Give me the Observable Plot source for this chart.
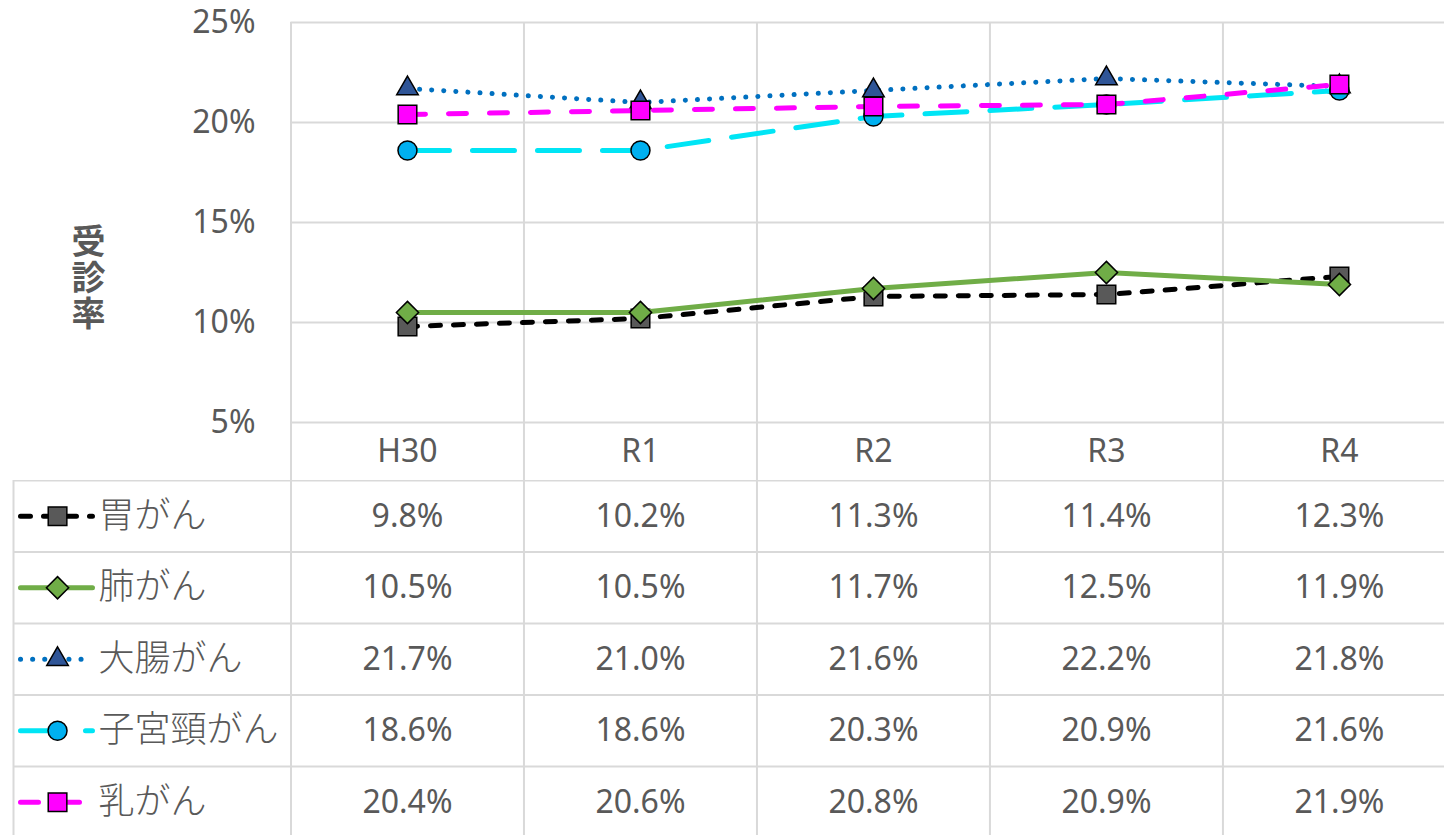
<!DOCTYPE html>
<html><head><meta charset="utf-8">
<script src="https://cdn.jsdelivr.net/npm/d3@7"></script>
<script src="https://cdn.jsdelivr.net/npm/@observablehq/plot@0.6"></script>
<style>
body{margin:0;background:#fff;}
#chart{width:1444px;height:835px;overflow:hidden;background:#fff;}
#chart svg{display:block;overflow:hidden;}
</style></head><body><div id="chart"></div>
<script>
// ---- data ----
const years = ["H30", "R1", "R2", "R3", "R4"];
const seriesNames = ["胃がん", "肺がん", "大腸がん", "子宮頸がん", "乳がん"];
const stomach    = [9.8, 10.2, 11.3, 11.4, 12.3];
const lung       = [10.5, 10.5, 11.7, 12.5, 11.9];
const colorectal = [21.7, 21.0, 21.6, 22.2, 21.8];
const cervical   = [18.6, 18.6, 20.3, 20.9, 21.6];
const breast     = [20.4, 20.6, 20.8, 20.9, 21.9];
const yTicks = [5, 10, 15, 20, 25];
const yTitle = "受診率";

// ---- styling ----
const values = [stomach, lung, colorectal, cervical, breast];
const styles = [
  {line: "#000000", dash: "10,13", symbol: "square",   fill: "#595959", r: 10.5},
  {line: "#70AD47", dash: null,    symbol: "diamond2", fill: "#70AD47", r: 10},
  {line: "#0070C0", dash: "0.1,12",symbol: "triangle", fill: "#2F5597", r: 8},
  {line: "#00E5F5", dash: "42,23", symbol: "circle",   fill: "#00B0F0", r: 9.5},
  {line: "#FF00FF", dash: "18,23", symbol: "square",   fill: "#FF00FF", r: 10.5}
];
const FONT = "Noto Sans, Noto Sans CJK JP, sans-serif";
const TEXT = "#595959";
const GRID = "#D9D9D9";
const W = 1444;
const xDomain = [-1.191, 4.951];
const xRight = xDomain[1];

const rows = [];
seriesNames.forEach((s, si) => values[si].forEach((v, i) => rows.push({series: s, si, year: years[i], i, value: v})));

function lineOpts(st, extra) {
  const o = {stroke: st.line, strokeWidth: 5, strokeLinecap: "round", strokeLinejoin: "round", ...extra};
  if (st.dash) o.strokeDasharray = st.dash;
  return o;
}
function dotOpts(st, extra) {
  return {symbol: st.symbol, r: st.r, fill: st.fill, stroke: "#000", strokeWidth: 1.5, ...extra};
}

// ---- chart ----
const chartMarks = [
  Plot.ruleX([0, 1, 2, 3, 4, 5], {y1: 2.1, y2: 25, stroke: GRID, strokeWidth: 2}),
  Plot.ruleY(yTicks, {x1: 0, x2: xRight, stroke: GRID, strokeWidth: 2}),
  Plot.text(yTicks, {x: 0, y: d => d, text: d => d + "%", dx: -35.5, textAnchor: "end", fontSize: 32, fill: TEXT}),
  Plot.text(years, {x: (d, i) => i + 0.5, y: 3.55, text: d => d, fontSize: 32, fill: TEXT}),
  Plot.text([yTitle], {x: -0.869, y: 12.75, text: d => d, fontSize: 34, fontFamily: "Noto Sans CJK JP", fontWeight: "bold", fill: TEXT})
];
seriesNames.forEach((s, si) => {
  const data = rows.filter(d => d.si === si);
  chartMarks.push(Plot.line(data, lineOpts(styles[si], {x: d => d.i + 0.5, y: "value"})));
  chartMarks.push(Plot.dot(data, dotOpts(styles[si], {x: d => d.i + 0.5, y: "value"})));
});

const chart = Plot.plot({
  width: W, height: 480,
  marginTop: 22, marginBottom: 0, marginLeft: 13, marginRight: 0,
  style: {fontFamily: FONT, background: "#fff"},
  x: {axis: null, domain: xDomain},
  y: {axis: null, domain: [2.1, 25]},
  marks: chartMarks
});
// set the axis title in vertical (upright, top-to-bottom) writing
d3.select(chart).selectAll("text").filter(function () { return this.textContent === yTitle; })
  .attr("dy", null)
  .style("writing-mode", "vertical-rl")
  .style("text-orientation", "upright")
  .style("letter-spacing", "2px")
  .attr("text-anchor", "middle");

// ---- data table ----
const rowH = 71.5;
const tH = 355;
const tableMarks = [
  Plot.ruleY([0, 1, 2, 3, 4, 5], {x1: xDomain[0], x2: xRight, stroke: GRID, strokeWidth: 2}),
  Plot.ruleX([xDomain[0], 0, 1, 2, 3, 4, 5], {y1: 0, y2: 5, stroke: GRID, strokeWidth: 2}),
  Plot.text(rows, {x: d => d.i + 0.5, y: d => d.si + 0.5, text: d => d.value.toFixed(1) + "%", fontSize: 32, fill: TEXT}),
  Plot.text(seriesNames, {x: -0.826, y: (d, i) => i + 0.5, text: d => d, textAnchor: "start", fontSize: 36, fontFamily: "Noto Sans CJK JP", fontWeight: 300, fill: TEXT})
];
seriesNames.forEach((s, si) => {
  const key = [{x: -1.161, y: si + 0.5}, {x: -0.852, y: si + 0.5}];
  tableMarks.push(Plot.line(key, lineOpts(styles[si], {x: "x", y: "y"})));
  tableMarks.push(Plot.dot([{x: -1.002, y: si + 0.5}], dotOpts(styles[si], {x: "x", y: "y"})));
});
const table = Plot.plot({
  width: W, height: tH,
  marginTop: 0, marginBottom: 0, marginLeft: 13, marginRight: 0,
  style: {fontFamily: FONT, background: "#fff"},
  x: {axis: null, domain: xDomain},
  y: {axis: null, domain: [0, tH / rowH], range: [0, tH]},
  marks: tableMarks
});

const root = document.getElementById("chart");
root.appendChild(chart);
root.appendChild(table);
</script>
</body></html>
